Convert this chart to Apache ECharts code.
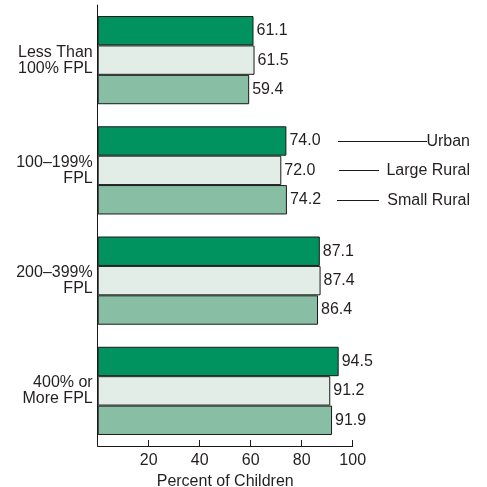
<!DOCTYPE html>
<html>
<head>
<meta charset="utf-8">
<script src="https://cdn.jsdelivr.net/npm/echarts@6/dist/echarts.min.js"></script>
<style>
html,body{margin:0;padding:0;background:#fff;}
#chart{width:487px;height:487px;}
</style>
</head>
<body>
<div id="chart"></div>
<script>
var categories = ['Less Than\n100% FPL', '100–199%\nFPL', '200–399%\nFPL', '400% or\nMore FPL'];
var seriesNames = ['Urban', 'Large Rural', 'Small Rural'];
var urban = [61.1, 74.0, 87.1, 94.5];
var largeRural = [61.5, 72.0, 87.4, 91.2];
var smallRural = [59.4, 74.2, 86.4, 91.9];
var xTicks = [20, 40, 60, 80, 100];

var colors = ['#00935F', '#E3EDE8', '#88BFA4'];
var FONT = '"Liberation Sans", Arial, Helvetica, sans-serif';
var FS = 16;
var TXT = '#231F20';

var chart = echarts.init(document.getElementById('chart'), null, {renderer: 'canvas'});

function mkSeries(name, data, color) {
  return {
    name: name,
    type: 'bar',
    data: data,
    barGap: '0%',
    barCategoryGap: '20%',
    itemStyle: {color: color, borderColor: '#1a1a1a', borderWidth: 1},
    label: {
      show: true, position: 'right', distance: 3,
      formatter: function (p) { return p.value.toFixed(1); },
      color: TXT, fontFamily: FONT, fontSize: FS
    },
    emphasis: {disabled: true},
    animation: false
  };
}

chart.setOption({
  animation: false,
  grid: {left: 97.7, right: 134.3, top: 5, bottom: 41, containLabel: false, outerBoundsMode: 'none'},
  xAxis: {
    type: 'value', min: 0, max: 100, interval: 20,
    name: 'Percent of Children', nameLocation: 'middle', nameGap: 22,
    nameTextStyle: {color: TXT, fontFamily: FONT, fontSize: FS},
    axisLine: {show: true, lineStyle: {color: '#1a1a1a', width: 1}},
    axisTick: {show: true, inside: true, length: 6, lineStyle: {color: '#1a1a1a'}},
    splitLine: {show: false},
    axisLabel: {
      color: TXT, fontFamily: FONT, fontSize: FS, margin: 7,
      formatter: function (v) { return xTicks.indexOf(v) >= 0 ? String(v) : ''; }
    }
  },
  yAxis: {
    type: 'category', data: categories, inverse: true,
    axisLine: {show: true, lineStyle: {color: '#1a1a1a', width: 1}},
    axisTick: {show: false},
    axisLabel: {color: TXT, fontFamily: FONT, fontSize: FS, lineHeight: 16, margin: 5, align: 'right'}
  },
  series: [
    mkSeries(seriesNames[0], urban, colors[0]),
    mkSeries(seriesNames[1], largeRural, colors[1]),
    mkSeries(seriesNames[2], smallRural, colors[2])
  ]
});

// legend annotations next to the second category's bars
var legendLines = [[338, 427], [339, 379], [337, 379]];
var graphics = [];
var model = chart.getModel();
for (var i = 0; i < 3; i++) {
  var lay = model.getSeriesByIndex(i).getData().getItemLayout(1);
  var cy = Math.round(lay.y + lay.height / 2) + 0.5;
  graphics.push({
    type: 'line', silent: true,
    shape: {x1: legendLines[i][0], y1: cy, x2: legendLines[i][1], y2: cy},
    style: {stroke: '#1a1a1a', lineWidth: 1}
  });
  graphics.push({
    type: 'text', silent: true, x: 470, y: cy,
    style: {text: seriesNames[i], fill: TXT, font: FS + 'px ' + FONT, textAlign: 'right', textVerticalAlign: 'middle'}
  });
}
chart.setOption({graphic: graphics});
</script>
</body>
</html>
